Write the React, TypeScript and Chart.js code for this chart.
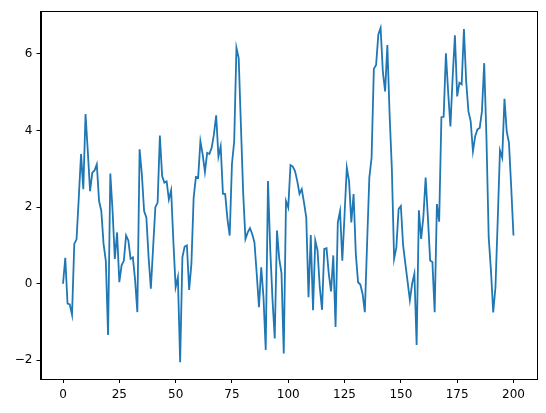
import React, { useEffect, useRef } from "react";
import { Chart, registerables } from "chart.js";

Chart.register(...registerables);

const values: number[] = [
  0, 0.68, -0.52, -0.54, -0.81, 1.04, 1.16, 2.25, 3.39, 2.47,
  4.43, 3.46, 2.42, 2.9, 2.96, 3.12, 2.16, 1.9, 1.04, 0.6,
  -1.34, 2.88, 1.9, 0.65, 1.34, 0.04, 0.48, 0.6, 1.26, 1.13,
  0.65, 0.69, 0.1, -0.74, 3.51, 2.86, 1.9, 1.73, 0.69, -0.13,
  0.95, 2.0, 2.12, 3.87, 2.81, 2.64, 2.67, 2.2, 2.44, 1.1,
  -0.09, 0.17, -2.05, 0.69, 0.97, 1.0, -0.16, 0.52, 2.25, 2.79,
  2.77, 3.72, 3.38, 2.92, 3.42, 3.39, 3.55, 3.9, 4.4, 3.32,
  3.59, 2.35, 2.34, 1.69, 1.26, 3.12, 3.72, 6.16, 5.89, 4.1,
  2.35, 1.17, 1.34, 1.45, 1.3, 1.08, 0.26, -0.61, 0.43, -0.35,
  -1.73, 2.68, 0.9, -0.4, -1.43, 1.39, 0.65, 0.28, -1.82, 2.16,
  1.99, 3.1, 3.06, 2.94, 2.68, 2.35, 2.47, 2.12, 1.73, -0.35,
  1.27, -0.69, 1.13, 0.87, -0.09, -0.68, 0.91, 0.93, 0.26, -0.2,
  0.74, -1.13, 1.6, 1.9, 0.6, 1.8, 3.03, 2.68, 1.6, 2.34,
  0.78, 0.04, -0.02, -0.26, -0.74, 1.04, 2.77, 3.29, 5.61, 5.71,
  6.51, 6.68, 5.54, 5.02, 6.23, 4.42, 3.0, 0.65, 0.95, 1.95,
  2.03, 1.0, 0.52, 0.05, -0.43, 0.0, 0.26, -1.6, 1.92, 1.17,
  1.75, 2.77, 1.73, 0.61, 0.57, -0.74, 2.08, 1.62, 4.35, 4.36,
  6.02, 5.0, 4.11, 5.4, 6.49, 4.89, 5.25, 5.21, 6.65, 5.28,
  4.5, 4.24, 3.46, 3.85, 4.03, 4.07, 4.5, 5.76, 3.81, 1.21,
  0.35, -0.75, -0.09, 1.65, 3.48, 3.29, 4.83, 3.98, 3.68, 2.51,
  1.26,
];

const xTicks: number[] = [0, 25, 50, 75, 100, 125, 150, 175, 200];
const yTicks: number[] = [-2, 0, 2, 4, 6];

const frame = {
  id: "frame",
  afterDraw(chart: any) {
    const { ctx, chartArea } = chart;
    ctx.save();
    ctx.strokeStyle = "#000";
    ctx.lineWidth = 1;
    ctx.strokeRect(
      Math.round(chartArea.left) + 0.5,
      Math.round(chartArea.top) + 0.5,
      Math.round(chartArea.right - chartArea.left),
      Math.round(chartArea.bottom - chartArea.top)
    );
    ctx.restore();
  },
};

export default function App() {
  const ref = useRef<HTMLCanvasElement>(null);
  useEffect(() => {
    document.body.style.margin = "0";
    const pts = values.map((v, i) => ({ x: i, y: v }));
    const lo = Math.min(...values);
    const hi = Math.max(...values);
    const pad = (hi - lo) * 0.05;
    const font = { family: "DejaVu Sans", size: 12 };
    const chart = new Chart(ref.current!, {
      type: "line",
      data: {
        datasets: [
          {
            data: pts,
            borderColor: "#1f77b4",
            borderWidth: 1.8,
            pointRadius: 0,
            tension: 0,
            fill: false,
          },
        ],
      },
      options: {
        animation: false,
        responsive: false,
        parsing: false,
        layout: { padding: { top: 10, right: 10, left: 0, bottom: 0 } },
        plugins: { legend: { display: false }, tooltip: { enabled: false } },
        scales: {
          x: {
            type: "linear",
            min: -10,
            max: 210,
            afterBuildTicks: (s: any) => {
              s.ticks = xTicks.map((v) => ({ value: v }));
            },
            afterFit: (s: any) => {
              s.height = 34;
            },
            grid: { display: true, drawOnChartArea: false, drawTicks: true, tickLength: 4, color: "#000" },
            border: { display: true, color: "#000" },
            ticks: { color: "#000", font, padding: 5, maxRotation: 0 },
          },
          y: {
            type: "linear",
            min: lo - pad,
            max: hi + pad,
            afterBuildTicks: (s: any) => {
              s.ticks = yTicks.map((v) => ({ value: v }));
            },
            afterFit: (s: any) => {
              s.width = 40.5;
            },
            grid: { display: true, drawOnChartArea: false, drawTicks: true, tickLength: 4, color: "#000" },
            border: { display: true, color: "#000" },
            ticks: {
              color: "#000",
              font,
              padding: 4,
              callback: (v: any) => (v < 0 ? "\u2212" + Math.abs(v) : String(v)),
            },
          },
        },
      },
      plugins: [frame],
    });
    return () => chart.destroy();
  }, []);
  return (
    <div style={{ width: 546, height: 413, background: "#fff" }}>
      <canvas ref={ref} width={546} height={413} />
    </div>
  );
}
